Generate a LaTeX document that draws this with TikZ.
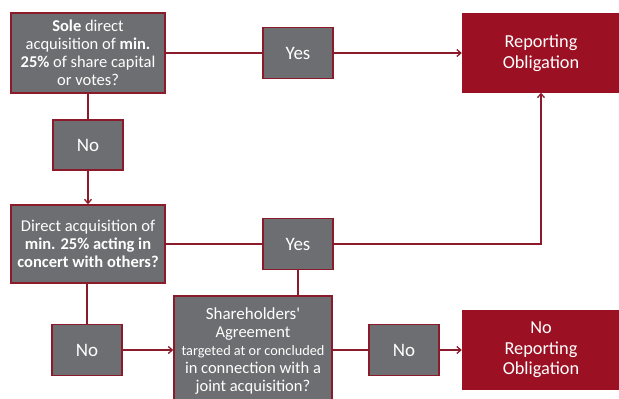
\documentclass[tikz,border=0pt]{standalone}
\usepackage{fontspec}
\setmainfont{Carlito}
\usetikzlibrary{arrows.meta}
\usepackage{xcolor}
\definecolor{boxgray}{RGB}{109,110,113}
\definecolor{darkred}{RGB}{139,26,43}
\definecolor{obligred}{RGB}{155,17,35}

\begin{document}
\begin{tikzpicture}[x=1pt,y=-1pt,
	question/.style={draw=darkred,line width=1.5pt,fill=boxgray,text=white,align=center,inner sep=2pt,font=\fontsize{16.5}{18}\selectfont},
	answer/.style={question,minimum width=70pt,minimum height=51pt,font=\fontsize{19}{22}\selectfont},
	result/.style={draw=obligred,fill=obligred,text=white,align=center,minimum width=158pt,minimum height=79pt,font=\fontsize{18.3}{20.5}\selectfont},
	flow/.style={darkred,line width=1.3pt},
	tip/.style={flow,-{Straight Barb[length=4pt,width=7pt]}}]
	\clip (0,0) rectangle (619,399);
	\useasboundingbox (0,0) rectangle (619,399);

	\node(sole) at (88,53)[question,minimum width=154pt,minimum height=80pt]{{\bfseries Sole} direct\\acquisition of {\bfseries min.}\\{\bfseries 25\%} of share capital\\or votes?};
	\node(yes1) at (298,53)[answer]{Yes};
	\node(rep) at (541,53)[result]{Reporting\\Obligation};
	\node(no1) at (88,145)[answer,minimum height=50pt]{No};
	\node(direct) at (88,244)[question,minimum width=154pt,minimum height=78pt]{Direct acquisition of\\{\bfseries min. 25\% acting in}\\{\bfseries concert with others?}};
	\node(yes2) at (298,244)[answer]{Yes};
	\node(sh) at (253,351)[question,minimum width=158pt,minimum height=110pt]{\fontsize{17}{19.5}\selectfont Shareholders\textquotesingle\\Agreement\\\fontsize{14.3}{16}\selectfont targeted at or concluded\\in connection with a\\joint acquisition?};
	\node(no2) at (87,350)[answer]{No};
	\node(no3) at (404,350)[answer]{No};
	\node(norep) at (541,350)[result]{No\\Reporting\\Obligation};

	\draw[flow](sole) -- (yes1);
	\draw[tip](yes1) -- (rep);
	\draw[flow](sole) -- (no1);
	\draw[tip](no1) -- (direct);
	\draw[flow](direct) -- (yes2);
	\draw[tip](yes2) -| (rep);
	\draw[flow](yes2) -- (yes2 |- sh.north);
	\draw[flow](no2 |- direct.south) -- (no2);
	\draw[tip](no2) -- (no2 -| sh.west);
	\draw[flow](no3 -| sh.east) -- (no3);
	\draw[tip](no3) -- (norep);
\end{tikzpicture}
\end{document}
